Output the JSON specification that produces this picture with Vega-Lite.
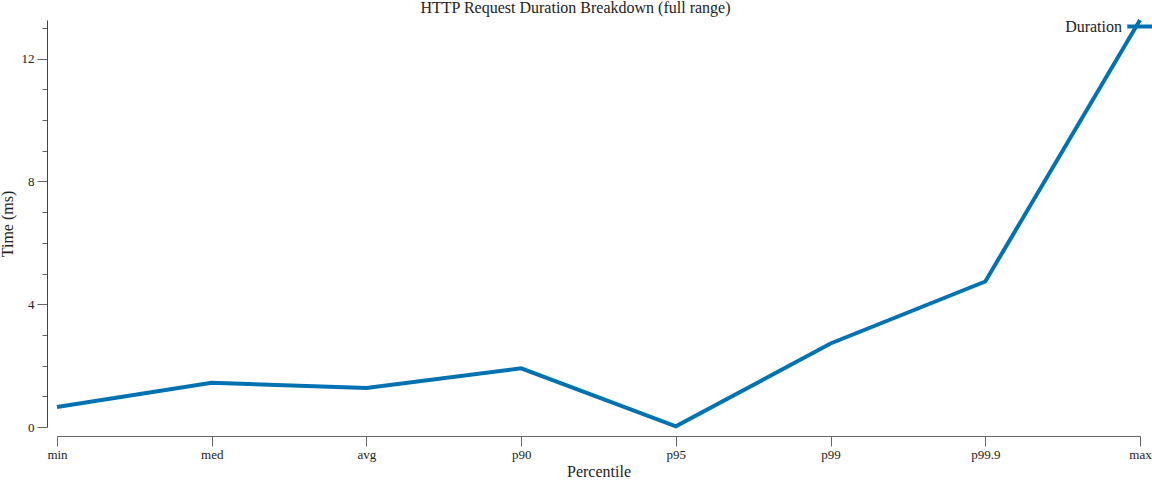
{
  "$schema": "https://vega.github.io/schema/vega-lite/v6.json",
  "width": 1083,
  "height": 407,
  "autosize": {"type": "none"},
  "padding": {"left": 57, "top": 20, "right": 12, "bottom": 53},
  "background": "white",
  "title": {
    "text": "HTTP Request Duration Breakdown (full range)",
    "font": "Liberation Serif",
    "fontSize": 16,
    "fontWeight": "normal",
    "color": "#222",
    "anchor": "middle",
    "dx": -23,
    "dy": 11,
    "offset": 6
  },
  "data": {
    "values": [
      {"percentile": "min", "time": 0.65, "series": "Duration"},
      {"percentile": "med", "time": 1.44, "series": "Duration"},
      {"percentile": "avg", "time": 1.27, "series": "Duration"},
      {"percentile": "p90", "time": 1.91, "series": "Duration"},
      {"percentile": "p95", "time": 0.02, "series": "Duration"},
      {"percentile": "p99", "time": 2.72, "series": "Duration"},
      {"percentile": "p99.9", "time": 4.74, "series": "Duration"},
      {"percentile": "max", "time": 13.26, "series": "Duration"}
    ]
  },
  "mark": {"type": "line", "strokeWidth": 4, "clip": false},
  "encoding": {
    "x": {
      "field": "percentile",
      "type": "ordinal",
      "sort": null,
      "scale": {"type": "point", "padding": 0},
      "axis": {
        "title": "Percentile",
        "labelAngle": 0,
        "offset": 9,
        "tickSize": 10,
        "labelPadding": 2,
        "titlePadding": 2,
        "domainColor": "#666",
        "tickColor": "#666",
        "labelFont": "Liberation Serif",
        "labelFontSize": 13,
        "labelColor": "#222",
        "titleFont": "Liberation Serif",
        "titleFontSize": 16,
        "titleFontWeight": "normal",
        "titleColor": "#222",
        "grid": false
      }
    },
    "y": {
      "field": "time",
      "type": "quantitative",
      "scale": {"domain": [0, 13.26], "nice": false},
      "axis": {
        "title": "Time (ms)",
        "values": [0, 1, 2, 3, 4, 5, 6, 7, 8, 9, 10, 11, 12, 13],
        "labelExpr": "datum.value % 4 === 0 ? datum.label : ''",
        "tickSize": {"expr": "datum.value % 4 === 0 ? 10 : 5"},
        "offset": 10,
        "labelPadding": 3,
        "titlePadding": 6,
        "domainColor": "#444",
        "tickColor": "#666",
        "labelFont": "Liberation Serif",
        "labelFontSize": 13,
        "labelColor": "#222",
        "titleFont": "Liberation Serif",
        "titleFontSize": 16,
        "titleFontWeight": "normal",
        "titleColor": "#222",
        "grid": false
      }
    },
    "color": {
      "field": "series",
      "type": "nominal",
      "scale": {"domain": ["Duration"], "range": ["#0072B2"]},
      "legend": {
        "title": null,
        "orient": "none",
        "legendX": 1068,
        "legendY": -9,
        "padding": 0,
        "symbolType": "stroke",
        "symbolSize": 700,
        "symbolStrokeWidth": 4,
        "labelAlign": "right",
        "labelOffset": -34,
        "labelFont": "Liberation Serif",
        "labelFontSize": 16,
        "labelColor": "#222"
      }
    }
  },
  "config": {"view": {"stroke": null}}
}
